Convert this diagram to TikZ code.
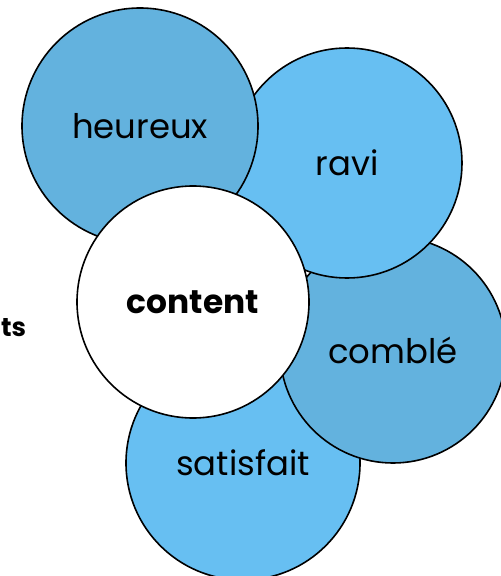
\documentclass[tikz,border=0pt]{standalone}
\usepackage{fontspec}
\setmainfont{Poppins}
\usepackage{tikz}

\definecolor{deepblue}{RGB}{99,178,222}
\definecolor{paleblue}{RGB}{103,191,242}

\tikzset{
    bubble/.style={circle, draw=black, line width=1.6bp, inner sep=0pt,
        font=\fontsize{34}{34}\selectfont},
}

\begin{document}
\begin{tikzpicture}[x=1bp, y=-1bp]
            \useasboundingbox (0,0) rectangle (501,576);
            \node[bubble, fill=paleblue, minimum size=234bp] (satisfait) at (243,463) {satisfait};
            \node[bubble, fill=deepblue, minimum size=226bp] (comble) at (393,350) {combl\'e};
            \node[bubble, fill=paleblue, minimum size=230bp] (ravi) at (347,163) {ravi};
            \node[bubble, fill=deepblue, minimum size=236bp] (heureux) at (140,126) {heureux};
            \node[bubble, fill=white, minimum size=232bp] (content) at (193,302) {\fontsize{33}{33}\selectfont\bfseries content};
            \node[anchor=west, inner sep=0pt, font=\fontsize{26}{26}\selectfont\bfseries] (titre) at (1,328) {ts};
        \end{tikzpicture}
\end{document}
